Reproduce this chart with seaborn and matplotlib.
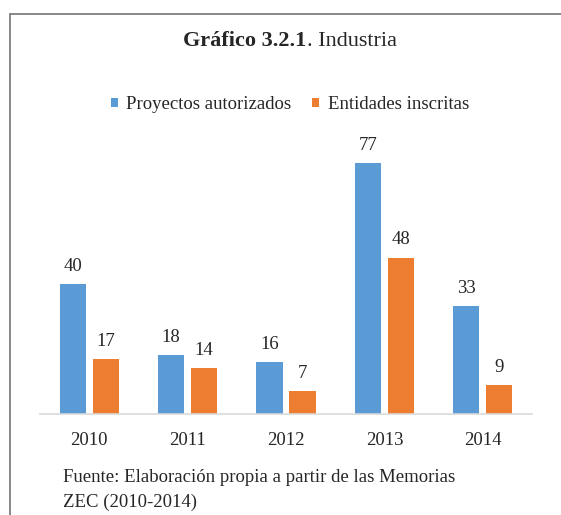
import numpy as np
import pandas as pd
import matplotlib.pyplot as plt
from matplotlib.lines import Line2D
from matplotlib.patches import Patch
import seaborn as sns

years = ["2010", "2011", "2012", "2013", "2014"]
series_names = ["Proyectos autorizados", "Entidades inscritas"]
proyectos = [40, 18, 16, 77, 33]
entidades = [17, 14, 7, 48, 9]
colors = ["#5B9BD5", "#ED7D31"]

df = pd.DataFrame({
    "Año": years * 2,
    "Serie": [series_names[0]] * len(years) + [series_names[1]] * len(years),
    "Valor": proyectos + entidades,
})

sns.set_style("white")
plt.rcParams["font.family"] = ["Liberation Serif", "DejaVu Serif"]
FS = 13.5

fig = plt.figure(figsize=(5.61, 5.15), dpi=100)
ax = fig.add_axes([40 / 561, 101 / 515, 492 / 561, 0.5697])

sns.barplot(data=df, x="Año", y="Valor", hue="Serie", palette=colors,
            width=0.672, gap=0.21, ax=ax, legend=False, saturation=1,
            edgecolor="none")

for cont in ax.containers:
    ax.bar_label(cont, fmt="%d", padding=6.5, fontsize=FS, color="#262626")

ax.set_ylim(0, 90)
ax.set_xlim(-0.5, 4.5)
ax.set_xlabel("")
ax.set_ylabel("")
ax.set_yticks([])
ax.tick_params(axis="x", length=0, pad=13, labelsize=FS, labelcolor="#262626")
for s in ["top", "left", "right"]:
    ax.spines[s].set_visible(False)
ax.spines["bottom"].set_color("#D9D9D9")
ax.spines["bottom"].set_linewidth(1.2)

# title: bold part + regular part, centred together
cx = 290 / 561
ty = 1 - 46 / 515
t1 = fig.text(0, ty, "Gráfico 3.2.1", fontsize=16, fontweight="bold", va="baseline")
t2 = fig.text(0, ty, ". Industria", fontsize=16, va="baseline")
fig.canvas.draw()
r = fig.canvas.get_renderer()
w1 = t1.get_window_extent(r).width / fig.bbox.width
w2 = t2.get_window_extent(r).width / fig.bbox.width
x0 = cx - (w1 + w2) / 2
t1.set_x(x0)
t2.set_x(x0 + w1)

handles = [Patch(facecolor=c, edgecolor="none") for c in colors]
fig.legend(handles, series_names, loc="center", bbox_to_anchor=(cx, 1 - 104.5 / 515),
           ncol=2, frameon=False, fontsize=FS, handlelength=0.38, handleheight=0.38,
           handletextpad=0.45, columnspacing=1.1, labelcolor="#262626")

fig.text(62.6 / 561, 1 - 478 / 515, "Fuente: Elaboración propia a partir de las Memorias",
         fontsize=FS, va="center", color="#262626")
fig.text(62.6 / 561, 1 - 502 / 515, "ZEC (2010-2014)", fontsize=FS, va="center", color="#262626")

# frame around the chart (only left and top visible in the crop)
fig.add_artist(Line2D([10 / 561, 10 / 561], [0, 1 - 13.6 / 515], color="#7F7F7F", lw=1.3))
fig.add_artist(Line2D([10 / 561, 1], [1 - 13.6 / 515, 1 - 13.6 / 515], color="#7F7F7F", lw=1.3))

fig.savefig("out.png", dpi=100)
